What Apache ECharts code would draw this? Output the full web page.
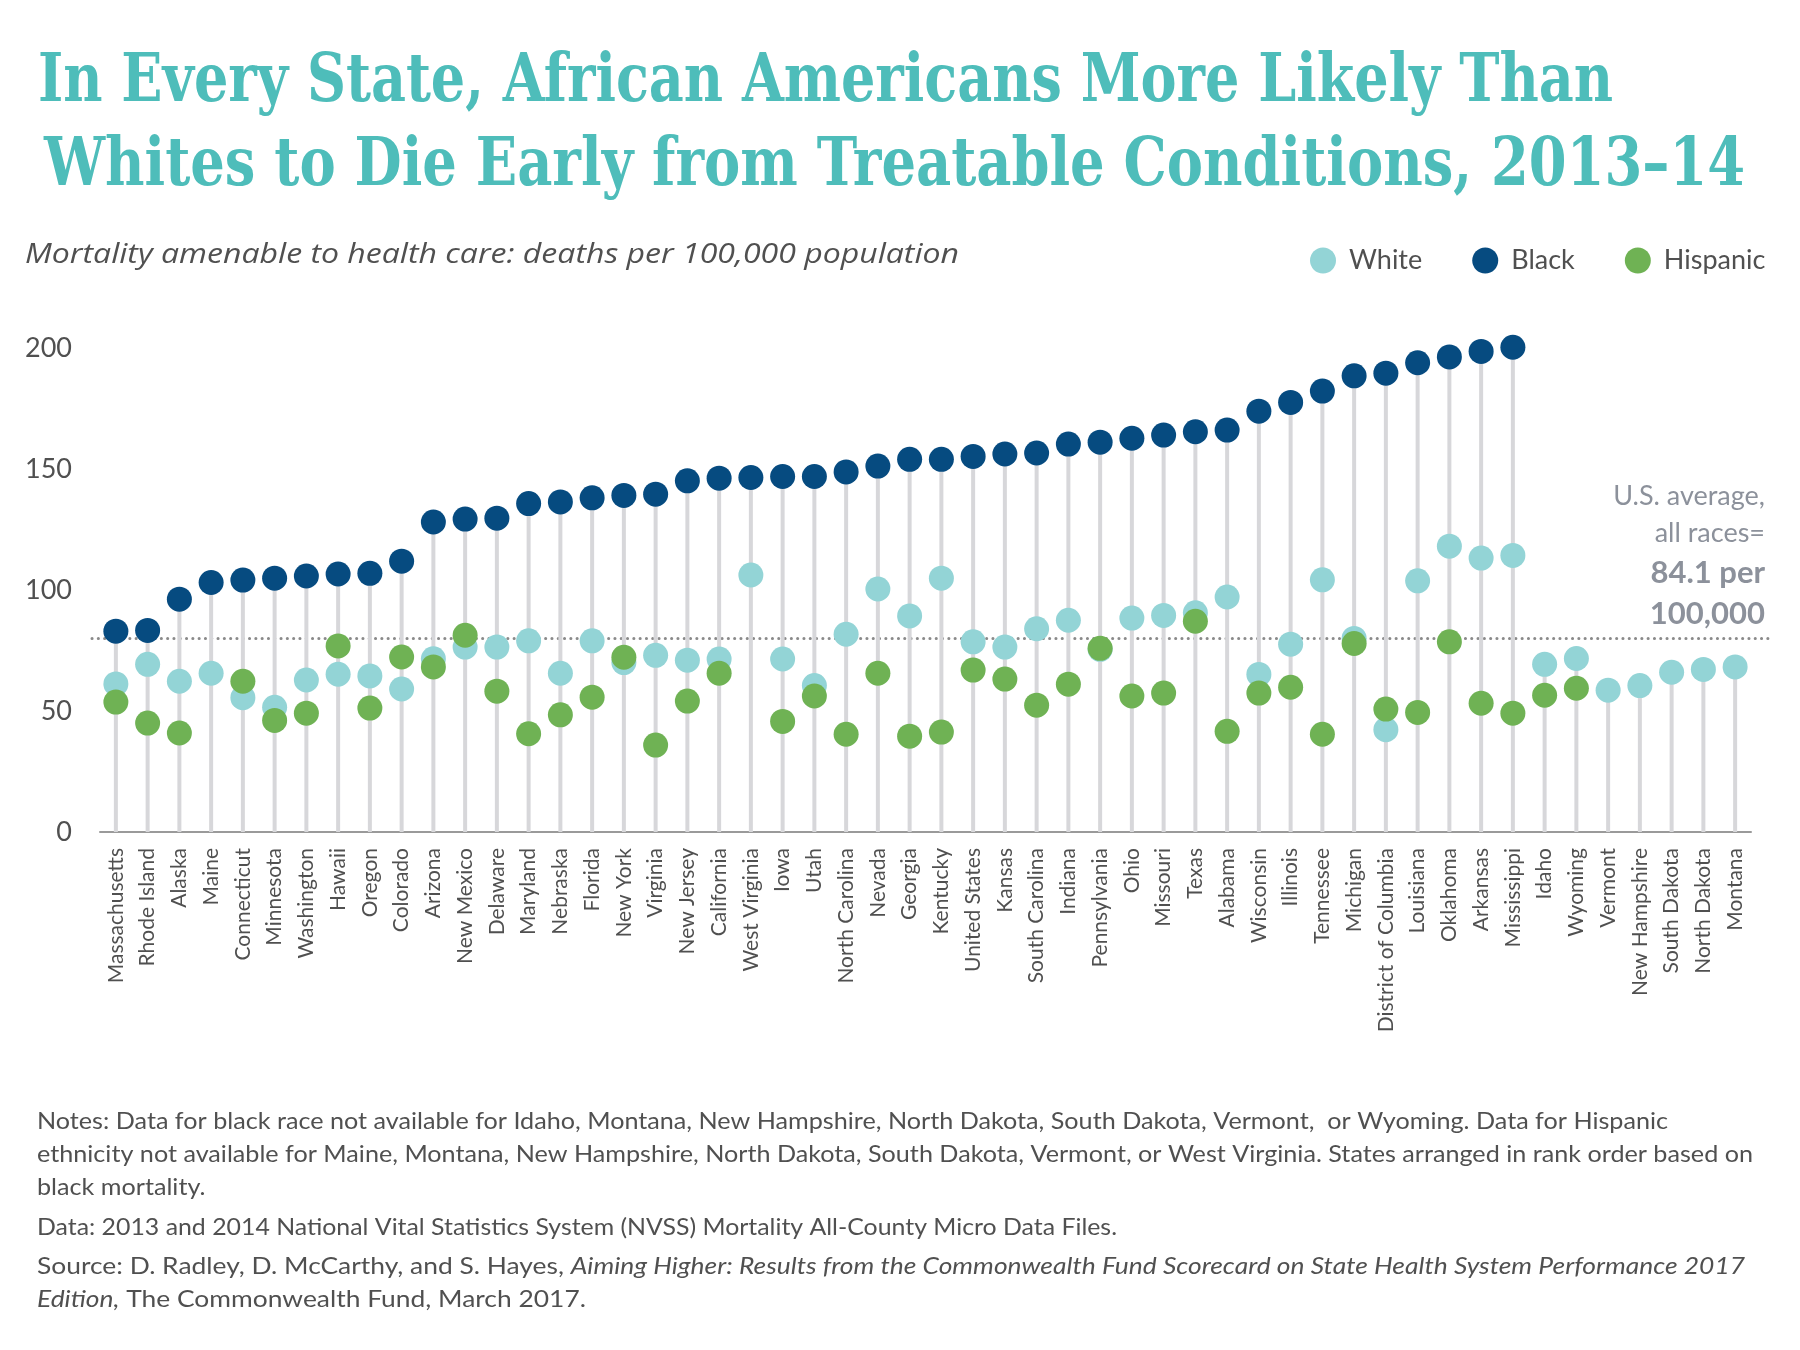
<!DOCTYPE html>
<html>
<head>
<meta charset="utf-8">
<script src="https://cdn.jsdelivr.net/npm/echarts@6/dist/echarts.min.js"></script>
<style>
html,body{margin:0;padding:0;background:#fff;}
#chart{width:1800px;height:1350px;}
</style>
</head>
<body>
<div id="chart"></div>
<script>
var categories = ["Massachusetts","Rhode Island","Alaska","Maine","Connecticut","Minnesota","Washington","Hawaii","Oregon","Colorado","Arizona","New Mexico","Delaware","Maryland","Nebraska","Florida","New York","Virginia","New Jersey","California","West Virginia","Iowa","Utah","North Carolina","Nevada","Georgia","Kentucky","United States","Kansas","South Carolina","Indiana","Pennsylvania","Ohio","Missouri","Texas","Alabama","Wisconsin","Illinois","Tennessee","Michigan","District of Columbia","Louisiana","Oklahoma","Arkansas","Mississippi","Idaho","Wyoming","Vermont","New Hampshire","South Dakota","North Dakota","Montana"];

var white = [61.2,69.3,62.3,65.6,55.5,51.5,62.8,65.2,64.5,59.1,71.6,76.4,76.4,79.0,65.6,79.0,70.0,73.0,71.0,71.5,106.2,71.5,60.5,81.7,100.4,89.3,104.9,78.6,76.4,84.0,87.5,75.5,88.4,89.5,90.6,97.1,65.1,77.6,104.2,80.0,42.3,103.8,118.1,113.2,114.3,69.3,71.7,58.6,60.5,66.0,67.2,68.2];

var black = [83.0,83.3,96.2,103.1,104.1,104.9,105.8,106.6,106.9,111.9,128.1,129.3,129.7,135.7,136.4,138.1,139.1,139.6,145.1,146.2,146.5,146.9,146.9,148.8,151.2,154.0,154.0,155.2,156.2,156.6,160.3,161.1,162.7,164.0,165.4,166.1,173.9,177.5,182.2,188.5,189.6,193.9,196.3,198.6,200.3,null,null,null,null,null,null,null];

var hispanic = [53.7,45.0,40.9,null,62.3,46.1,49.1,76.9,51.2,72.3,68.2,81.3,58.2,40.6,48.4,55.7,72.2,35.9,54.1,65.6,null,45.7,56.2,40.4,65.6,39.6,41.3,66.9,63.2,52.4,61.1,75.9,56.2,57.4,87.1,41.6,57.4,59.8,40.4,77.9,50.8,49.4,78.6,53.2,49.1,56.5,59.4,null,null,null,null,null];

var yTicks = [0,50,100,150,200];
var avgLineValue = 80;
var avgLabel = ["U.S. average,","all races=","84.1 per","100,000"];

var titleLines = ["In Every State, African Americans More Likely Than","Whites to Die Early from Treatable Conditions, 2013\u201314"];
var subtitle = "Mortality amenable to health care: deaths per 100,000 population";
var notes = [
  "Notes: Data for black race not available for Idaho, Montana, New Hampshire, North Dakota, South Dakota, Vermont,  or Wyoming. Data for Hispanic",
  "ethnicity not available for Maine, Montana, New Hampshire, North Dakota, South Dakota, Vermont, or West Virginia. States arranged in rank order based on",
  "black mortality."
];
var dataNote = "Data: 2013 and 2014 National Vital Statistics System (NVSS) Mortality All-County Micro Data Files.";
var sourceA = "Source: D. Radley, D. McCarthy, and S. Hayes, ";
var sourceB = "Aiming Higher: Results from the Commonwealth Fund Scorecard on State Health System Performance 2017";
var sourceC = "Edition,";
var sourceD = " The Commonwealth Fund, March 2017.";

var C_WHITE = '#93d4d6', C_BLACK = '#064b80', C_HISP = '#6fb254';
var TXT = '#505050';

function toSeries(arr){ return arr.map(function(v){ return v == null ? '-' : v; }); }
var stems = categories.map(function(c,i){
  var vals = [white[i], black[i], hispanic[i]].filter(function(v){ return v != null; });
  return Math.max.apply(null, vals);
});

var cnv = document.createElement('canvas').getContext('2d');
function measure(text, font){ cnv.font = font; return cnv.measureText(text).width; }

var titleFont = 'bold 67px "DejaVu Serif Condensed", "DejaVu Serif", serif';
var t1s = 1575 / measure(titleLines[0], titleFont);
var t2s = 1701 / measure(titleLines[1], titleFont);

var subFont = 'italic 27px "Open Sans"';
var subS = 934 / measure(subtitle, subFont);

var noteFont = '23px Lato';
var noteItal = 'italic 23px Lato';
var noteS = 1716 / measure(notes[1], noteFont);
var dataS = 1080 / measure(dataNote, noteFont);
var srcS = 1708 / (measure(sourceA, noteFont) + measure(sourceB, noteItal));

var chart = echarts.init(document.getElementById('chart'), null, {renderer:'canvas'});

var option = {
  backgroundColor: '#ffffff',
  animation: false,
  grid: { left: 100, right: 49, top: 348, height: 484, containLabel: false },
  legend: {
    data: ['White','Black','Hispanic'],
    left: 1305, top: 242,
    icon: 'circle', itemWidth: 26, itemHeight: 26, itemGap: 50,
    textStyle: { fontFamily: 'Lato', fontSize: 27, color: TXT, padding: [0,0,0,8] },
    selectedMode: false
  },
  xAxis: {
    type: 'category',
    data: categories,
    boundaryGap: true,
    axisLine: { show: true, lineStyle: { color: '#9a9a9a', width: 2 } },
    axisTick: { show: false },
    axisLabel: { interval: 0, rotate: 90, margin: 16, fontFamily: 'Lato', fontSize: 21, color: TXT }
  },
  yAxis: {
    type: 'value',
    min: yTicks[0], max: yTicks[yTicks.length-1], interval: yTicks[1]-yTicks[0],
    splitLine: { show: false },
    axisLine: { show: false },
    axisTick: { show: false },
    axisLabel: { margin: 28, fontFamily: 'Lato', fontSize: 27, color: TXT }
  },
  series: [
    { name: 'stem', type: 'bar', data: stems, barWidth: 4, silent: true, clip: false,
      itemStyle: { color: '#d7d7da' }, z: 1 },
    { name: 'White', type: 'scatter', data: toSeries(white), symbol: 'circle', symbolSize: 25, clip: false,
      itemStyle: { color: C_WHITE, opacity: 1 }, z: 3 },
    { name: 'Black', type: 'scatter', data: toSeries(black), symbol: 'circle', symbolSize: 25, clip: false,
      itemStyle: { color: C_BLACK, opacity: 1 }, z: 4 },
    { name: 'Hispanic', type: 'scatter', data: toSeries(hispanic), symbol: 'circle', symbolSize: 25, clip: false,
      itemStyle: { color: C_HISP, opacity: 1 }, z: 5 }
  ]
};
chart.setOption(option);

var avgY = chart.convertToPixel({yAxisIndex: 0}, avgLineValue);

function txt(x, y, text, font, fill, align, sx){
  return { type:'text', x: x, y: y, scaleX: sx || 1, scaleY: 1, z: 10,
    style: { text: text, font: font, fill: fill, textAlign: align || 'left', textVerticalAlign:'middle', align: align || 'left', verticalAlign:'middle' } };
}

var g = [];
g.push(txt(38, 84, titleLines[0], titleFont, '#4ebdba', 'left', t1s));
g.push(txt(44, 168, titleLines[1], titleFont, '#4ebdba', 'left', t2s));
g.push(txt(25, 255, subtitle, subFont, TXT, 'left', subS));

g.push({ type:'line', z: 1, shape: { x1: 92, y1: avgY, x2: 1769, y2: avgY },
  style: { stroke: '#8a8a8a', lineWidth: 3, lineDash: [0.1, 6.2], lineCap: 'round' } });

var annY = [496, 533, 573, 614];
avgLabel.forEach(function(t, i){
  var bold = i >= 2;
  g.push(txt(1765, annY[i], t, (bold ? 'bold 31px' : '27px') + ' Lato', '#8c919b', 'right'));
});

var noteY = [1122, 1155, 1188];
notes.forEach(function(t, i){
  g.push(txt(37, noteY[i], t, noteFont, TXT, 'left', noteS));
});
g.push(txt(37, 1228, dataNote, noteFont, TXT, 'left', dataS));

var richStyle = { r: { fontFamily:'Lato', fontSize: 23, color: TXT }, i: { fontFamily:'Lato', fontStyle:'italic', fontSize: 23, color: TXT } };
g.push({ type:'text', x: 37, y: 1267, scaleX: srcS, z: 10,
  style: { text: '{r|' + sourceA + '}{i|' + sourceB + '}', rich: richStyle, fill: TXT,
    textAlign:'left', textVerticalAlign:'middle', align:'left', verticalAlign:'middle' } });
g.push({ type:'text', x: 37, y: 1300, scaleX: srcS, z: 10,
  style: { text: '{i|' + sourceC + '}{r|' + sourceD + '}', rich: richStyle, fill: TXT,
    textAlign:'left', textVerticalAlign:'middle', align:'left', verticalAlign:'middle' } });

chart.setOption({ graphic: { elements: g } });
</script>
</body>
</html>
